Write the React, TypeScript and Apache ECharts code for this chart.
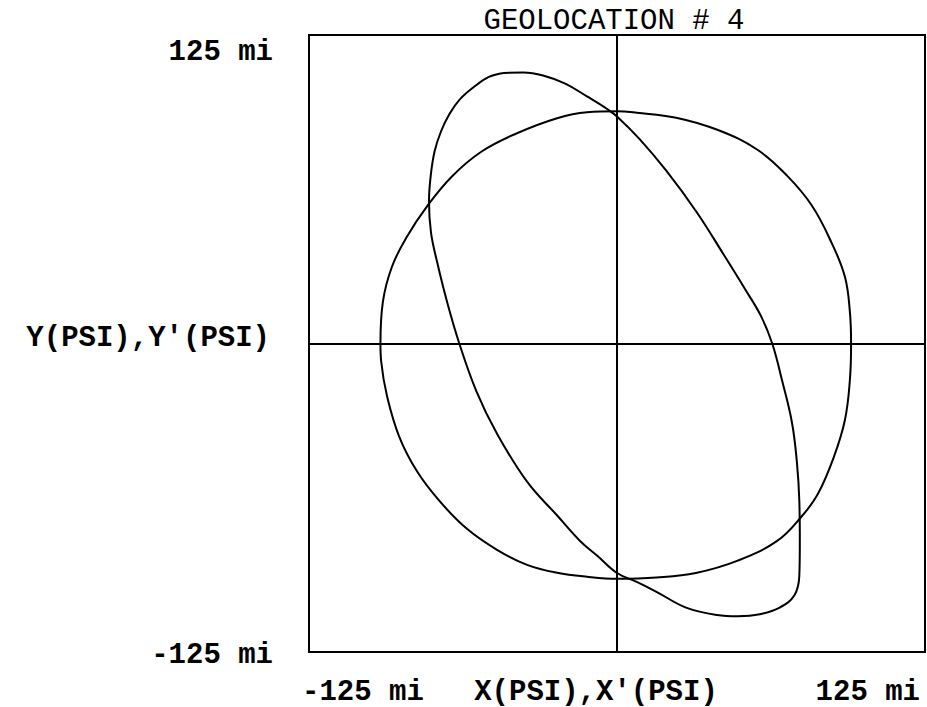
import React, { useEffect, useRef } from "react";
import * as echarts from "echarts";

// Plot range (miles) on both axes
const AXIS_MIN = -125;
const AXIS_MAX = 125;

const TITLE = "GEOLOCATION # 4";
const X_NAME = "X(PSI),X'(PSI)";
const Y_NAME = "Y(PSI),Y'(PSI)";
const Y_TICK_LABELS = ["125 mi", "-125 mi"];
const X_TICK_LABELS = ["-125 mi", "125 mi"];

// Locus of X(PSI), Y(PSI) — the wide, nearly round contour
const locusA: [number, number][] = [
  [-96, 0], [-95, 17], [-91.3, 31.2], [-85.2, 43.4], [-77.1, 55.6], [-66.9, 67.8],
  [-54.8, 77.9], [-40.6, 85.2], [-24.3, 91.3], [-12.2, 93.7], [0, 94.1],
  [8, 93.5], [24, 91.5], [41, 86.5], [57, 78.5], [69, 68], [79, 56], [87, 41],
  [92.5, 27], [94.5, 13], [95, 0], [94.5, -15], [92.5, -31], [88, -46],
  [81.5, -61], [75, -70], [65, -80], [49, -88], [32, -93], [16, -94.8],
  [0, -95.3], [-12.2, -94.5], [-24.3, -92.9], [-36.5, -89.7], [-48.7, -83.6],
  [-60.9, -75.1], [-71.8, -64.1], [-81.1, -51.9], [-88.4, -37.7],
  [-93.3, -21.5], [-95.7, -7.3], [-96, 0],
];

// Locus of X'(PSI), Y'(PSI) — the tilted, elongated contour
const locusB: [number, number][] = [
  [-46, 109.6], [-38, 109.8], [-30, 108.6], [-21, 105.3], [-12, 100], [-4, 95],
  [0, 92], [9, 83], [20, 70], [32.5, 53], [43, 36.5], [52, 22], [58.5, 11],
  [63, 0], [67, -15], [71, -32], [73, -48], [74, -64], [74.2, -80], [74, -94],
  [72, -102], [66, -107], [58, -109.7], [49, -110.5], [40.6, -110], [28, -107],
  [16, -100.6], [8, -96.6], [0, -93], [-8, -86], [-15, -80], [-24, -70],
  [-36.5, -56], [-49, -36], [-57, -19.5], [-64, 0], [-69, 17], [-73, 33],
  [-75.5, 45], [-76.3, 57.6], [-75.6, 68], [-74, 78], [-71.4, 86], [-68, 93],
  [-63.7, 99], [-58, 104], [-52, 108], [-46, 109.6],
];

const FONT_BOLD = 'bold 29px "Liberation Mono", "DejaVu Sans Mono", monospace';
const FONT_TITLE = '29px "Liberation Mono", "DejaVu Sans Mono", monospace';

function label(text: string, x: number, y: number, align: string, font = FONT_BOLD) {
  return {
    type: "text",
    x,
    y,
    silent: true,
    style: {
      text,
      fill: "#000",
      font,
      align,
      verticalAlign: "middle",
      textAlign: align,
      textVerticalAlign: "middle",
    },
  };
}

export default function App() {
  const ref = useRef<HTMLDivElement>(null);

  useEffect(() => {
    if (!ref.current) return;
    const chart = echarts.init(ref.current, undefined, { renderer: "svg" });

    const lineSeries = (name: string, data: [number, number][]) => ({
      name,
      type: "line",
      data,
      showSymbol: false,
      smooth: 0.4,
      silent: true,
      lineStyle: { color: "#000", width: 2 },
      z: 3,
    });

    chart.setOption({
      animation: false,
      backgroundColor: "#fff",
      grid: {
        left: 309,
        top: 35,
        width: 616,
        height: 617,
        show: true,
        borderColor: "#000",
        borderWidth: 2,
        backgroundColor: "transparent",
      },
      xAxis: {
        type: "value",
        min: AXIS_MIN,
        max: AXIS_MAX,
        axisLine: { show: true, onZero: true, lineStyle: { color: "#000", width: 2 } },
        axisTick: { show: false },
        axisLabel: { show: false },
        splitLine: { show: false },
      },
      yAxis: {
        type: "value",
        min: AXIS_MIN,
        max: AXIS_MAX,
        axisLine: { show: true, onZero: true, lineStyle: { color: "#000", width: 2 } },
        axisTick: { show: false },
        axisLabel: { show: false },
        splitLine: { show: false },
      },
      series: [lineSeries("X(PSI),Y(PSI)", locusA), lineSeries("X'(PSI),Y'(PSI)", locusB)],
      graphic: [
        label(TITLE, 614, 21, "center", FONT_TITLE),
        label(Y_TICK_LABELS[0], 273, 52, "right"),
        label(Y_NAME, 270, 338, "right"),
        label(Y_TICK_LABELS[1], 273, 655, "right"),
        label(X_TICK_LABELS[0], 302, 692, "left"),
        label(X_NAME, 596, 692, "center"),
        label(X_TICK_LABELS[1], 920, 692, "right"),
      ],
    });

    return () => chart.dispose();
  }, []);

  return (
    <div
      ref={ref}
      style={{ position: "fixed", left: 0, top: 0, width: 927, height: 707, background: "#fff" }}
    />
  );
}
